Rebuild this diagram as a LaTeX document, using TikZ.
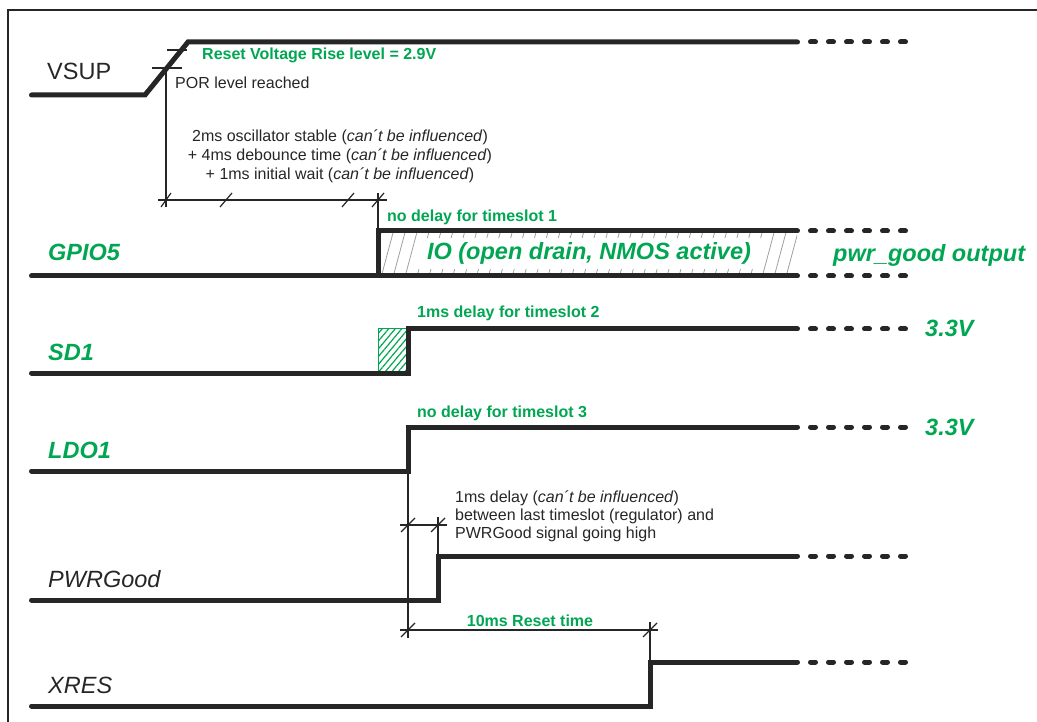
\documentclass[tikz,border=0pt]{standalone}
\usepackage{fontspec}
\setmainfont{Liberation Sans}
\usepackage{tikz}
\usetikzlibrary{positioning,patterns.meta}
\definecolor{pgreen}{RGB}{0,166,81}
\definecolor{pdark}{RGB}{38,38,38}

\begin{document}
\begin{tikzpicture}
[x=1pt,y=-1pt,
wave/.style={draw=pdark, line width=5pt, line cap=round, line join=miter},
cont/.style={draw=pdark, line width=5pt, line cap=round, dash pattern=on 5pt off 13pt},
dim/.style={draw=pdark, line width=1.2pt},
sig/.style={anchor=base west, inner sep=0pt, text=pdark, font=\fontsize{23.5}{28}\selectfont},
isig/.style={sig, font=\fontsize{23.5}{28}\selectfont\itshape},
gsig/.style={sig, text=pgreen, font=\fontsize{23.5}{28}\selectfont\bfseries\itshape},
note/.style={inner sep=0pt, text=pdark, font=\fontsize{16}{19}\selectfont},
gnote/.style={note, text=pgreen, font=\fontsize{16}{19}\selectfont\bfseries}]
\useasboundingbox (0,0) rectangle (1037,722);
\draw[pdark, line width=1.5pt] (8,722) -- (8,10) -- (1037,10);

\node[sig] (vsup) at (47,80) {VSUP};
\node[gsig] (gpio) at (48,261) {GPIO5};
\node[gsig] (sd) at (48,360) {SD1};
\node[gsig] (ldo) at (48,458) {LDO1};
\node[isig] (pgood) at (48,587) {PWRGood};
\node[isig] (xres) at (48,693) {XRES};

\draw[wave] (31.5,95) -- (145,95) -- (188,42) -- (797.5,42);
\draw[cont] (810.5,42) -- (905.5,42);
\draw[dim] (167,50) -- (187,50);
\draw[dim] (152,68) -- (182,68);
\draw[dim] (166,68) -- (166,207);
\draw[dim] (158,200) -- (387,200);
\draw[dim] (378,193) -- (378,231);
\draw[dim] (166,200) +(-5,7) -- +(5,-7);
\draw[dim] (226,200) +(-6,7) -- +(6,-7);
\draw[dim] (348,200) +(-6,7) -- +(6,-7);
\draw[dim] (378,200) +(-6,7) -- +(6,-7);
\node[gnote, anchor=base west] (rise) at (202,60) {Reset Voltage Rise level = 2.9V};
\node[note, anchor=base west] (por) at (175,89) {POR level reached};
\node[note, align=center, anchor=base] (wait) at (340,180)
  {2ms oscillator stable (\textit{can´t be influenced})\\
   + 4ms debounce time (\textit{can´t be influenced})\\
   + 1ms initial wait (\textit{can´t be influenced})};

\path[pattern={Lines[angle=75,distance=11.5pt,line width=0.8pt]}, pattern color=gray!75] (378,231) rectangle (797,276);
\node[gsig, anchor=center, fill=white, minimum height=31pt, inner xsep=10pt] (io) at (589,253.5) {IO (open drain, NMOS active)};
\draw[wave] (31.5,276) -- (378,276) -- (378,231) -- (797.5,231);
\draw[wave] (378,276) -- (797.5,276);
\draw[cont] (810.5,231) -- (905.5,231);
\draw[cont] (810.5,276) -- (905.5,276);
\node[gnote, anchor=base west] (slot1) at (387,222) {no delay for timeslot 1};
\node[gsig] (pwrout) at (833,262) {pwr\_good output};

\draw[pgreen, line width=1pt, pattern={Lines[angle=50,distance=5pt,line width=1.2pt]}, pattern color=pgreen] (378,329) rectangle (407,373);
\draw[wave] (31.5,373) -- (408,373) -- (408,329) -- (797.5,329);
\draw[cont] (810.5,329) -- (905.5,329);
\node[gnote, anchor=base west] (slot2) at (417,318) {1ms delay for timeslot 2};
\node[gsig] (sdv) at (925,337) {3.3V};

\draw[wave] (31.5,471) -- (408,471) -- (408,427) -- (797.5,427);
\draw[cont] (810.5,427) -- (905.5,427);
\node[gnote, anchor=base west] (slot3) at (417,417) {no delay for timeslot 3};
\node[gsig] (ldov) at (925,435) {3.3V};

\draw[wave] (31.5,600) -- (438,600) -- (438,556) -- (797.5,556);
\draw[cont] (810.5,556) -- (905.5,556);
\draw[dim] (408,471) -- (408,638);
\draw[dim] (400,525) -- (447,525);
\draw[dim] (438,517) -- (438,556);
\draw[dim] (408,525) +(-7,7) -- +(7,-7);
\draw[dim] (438,525) +(-7,7) -- +(7,-7);
\node[note, font=\fontsize{16}{18}\selectfont, align=left, anchor=base west] (delay) at (455,538)
  {1ms delay (\textit{can´t be influenced})\\
   between last timeslot (regulator) and\\
   PWRGood signal going high};

\draw[wave] (31.5,706) -- (650,706) -- (650,662) -- (797.5,662);
\draw[cont] (810.5,662) -- (905.5,662);
\draw[dim] (400,630) -- (658,630);
\draw[dim] (650,622) -- (650,662);
\draw[dim] (408,630) +(-7,7) -- +(7,-7);
\draw[dim] (650,630) +(-7,7) -- +(7,-7);
\node[gnote, anchor=base] (reset) at (530,626) {10ms Reset time};
\end{tikzpicture}
\end{document}
